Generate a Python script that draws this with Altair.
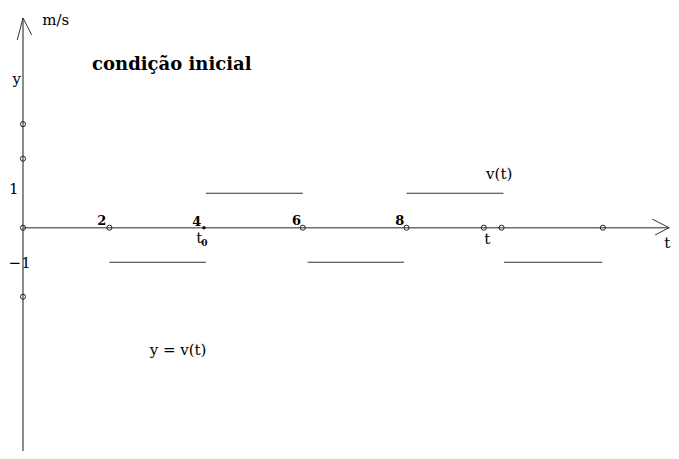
import altair as alt
import pandas as pd

# ---- data (t units on the horizontal axis, m/s on the vertical axis) ----
# axis lines
axis_t1 = [0.0, 0.0]
axis_y1 = [6.08, 0.0]
axis_t2 = [0.0, 13.47]
axis_y2 = [-6.9, 0.0]

# arrow barbs (tip -> barb end)
barb_t1 = [0.0, 0.0, 13.46, 13.46]
barb_y1 = [6.08, 6.08, 0.0, 0.0]
barb_t2 = [-0.12, 0.18, 13.11, 13.17]
barb_y2 = [5.44, 5.59, 0.25, -0.21]

# square wave v(t)
seg_start = [1.80, 3.81, 5.93, 7.99, 10.02]
seg_end = [3.81, 5.83, 7.94, 10.01, 12.07]
seg_level = [-1, 1, -1, 1, -1]

# open circles on the t axis and on the y axis
open_t = [0.0, 1.80, 5.83, 7.99, 9.60, 9.97, 12.08, 0.0, 0.0, 0.0]
open_y = [0, 0, 0, 0, 0, 0, 0, 3, 2, -2]

# filled dot (t0)
dot_t = [3.77]
dot_y = [0]

# bold tick numbers
num_text = ["2", "4", "6", "8"]
num_t = [1.64, 3.62, 5.70, 7.85]
num_y = [0.19, 0.16, 0.19, 0.19]

# regular labels (centered)
lab_text = ["m/s", "y", "1", "t", "t", "v(t)", "t", "y = v(t)"]
lab_t = [0.68, -0.13, -0.19, 3.67, 9.67, 9.92, 13.42, 3.23]
lab_y = [6.02, 4.30, 1.13, -0.30, -0.33, 1.56, -0.44, -3.54]

# left-aligned label
neg_text = ["\u22121"]
neg_t = [-0.30]
neg_y = [-1.01]

# subscript
sub_text = ["0"]
sub_t = [3.78]
sub_y = [-0.45]

# title
title_text = ["condição inicial"]
title_t = [3.10]
title_y = [4.72]

# ---- scales ----
W, H = 663, 443
xs = alt.Scale(domain=[-15 / 48, 648 / 48], nice=False, zero=False)
ys = alt.Scale(domain=[(227.7 - 451) / 34.5, (227.7 - 8) / 34.5], nice=False, zero=False)

def X(f):
    return alt.X(f, type="quantitative", scale=xs, axis=None)

def Y(f):
    return alt.Y(f, type="quantitative", scale=ys, axis=None)

axes_df = pd.DataFrame({"t": axis_t1, "y": axis_y1, "t2": axis_t2, "y2": axis_y2})
barb_df = pd.DataFrame({"t": barb_t1, "y": barb_y1, "t2": barb_t2, "y2": barb_y2})
seg_df = pd.DataFrame({"t": seg_start, "t2": seg_end, "y": seg_level})
open_df = pd.DataFrame({"t": open_t, "y": open_y})
dot_df = pd.DataFrame({"t": dot_t, "y": dot_y})
num_df = pd.DataFrame({"t": num_t, "y": num_y, "s": num_text})
lab_df = pd.DataFrame({"t": lab_t, "y": lab_y, "s": lab_text})
neg_df = pd.DataFrame({"t": neg_t, "y": neg_y, "s": neg_text})
sub_df = pd.DataFrame({"t": sub_t, "y": sub_y, "s": sub_text})
title_df = pd.DataFrame({"t": title_t, "y": title_y, "s": title_text})

FONT = "DejaVu Serif"

axes = alt.Chart(axes_df).mark_rule(color="#6f6f6f", strokeWidth=1.6).encode(
    x=X("t"), y=Y("y"), x2="t2", y2="y2")
barbs = alt.Chart(barb_df).mark_rule(color="#333333", strokeWidth=1).encode(
    x=X("t"), y=Y("y"), x2="t2", y2="y2")
segs = alt.Chart(seg_df).mark_rule(color="#333333", strokeWidth=1.1).encode(
    x=X("t"), x2="t2", y=Y("y"))
opens = alt.Chart(open_df).mark_point(shape="circle", filled=False, size=26,
                                      color="#222222", strokeWidth=1, opacity=1).encode(
    x=X("t"), y=Y("y"))
dots = alt.Chart(dot_df).mark_point(shape="circle", filled=True, size=12,
                                    color="#111111", opacity=1).encode(x=X("t"), y=Y("y"))
nums = alt.Chart(num_df).mark_text(font=FONT, fontSize=13, fontWeight="bold",
                                   color="black").encode(x=X("t"), y=Y("y"), text="s")
labs = alt.Chart(lab_df).mark_text(font=FONT, fontSize=15, color="black").encode(
    x=X("t"), y=Y("y"), text="s")
negs = alt.Chart(neg_df).mark_text(font=FONT, fontSize=15, color="black",
                                   align="left").encode(x=X("t"), y=Y("y"), text="s")
subs = alt.Chart(sub_df).mark_text(font=FONT, fontSize=9, fontWeight="bold",
                                   color="black").encode(x=X("t"), y=Y("y"), text="s")
title = alt.Chart(title_df).mark_text(font=FONT, fontSize=18, fontWeight="bold",
                                      color="black").encode(x=X("t"), y=Y("y"), text="s")

chart = alt.layer(axes, barbs, segs, opens, dots, nums, labs, negs, subs, title).properties(
    width=W, height=H, padding=0, autosize=alt.AutoSizeParams(type="none"),
    background="white"
).configure_view(stroke=None)

chart.save("out.html", embed_options={"renderer": "svg", "actions": False})
